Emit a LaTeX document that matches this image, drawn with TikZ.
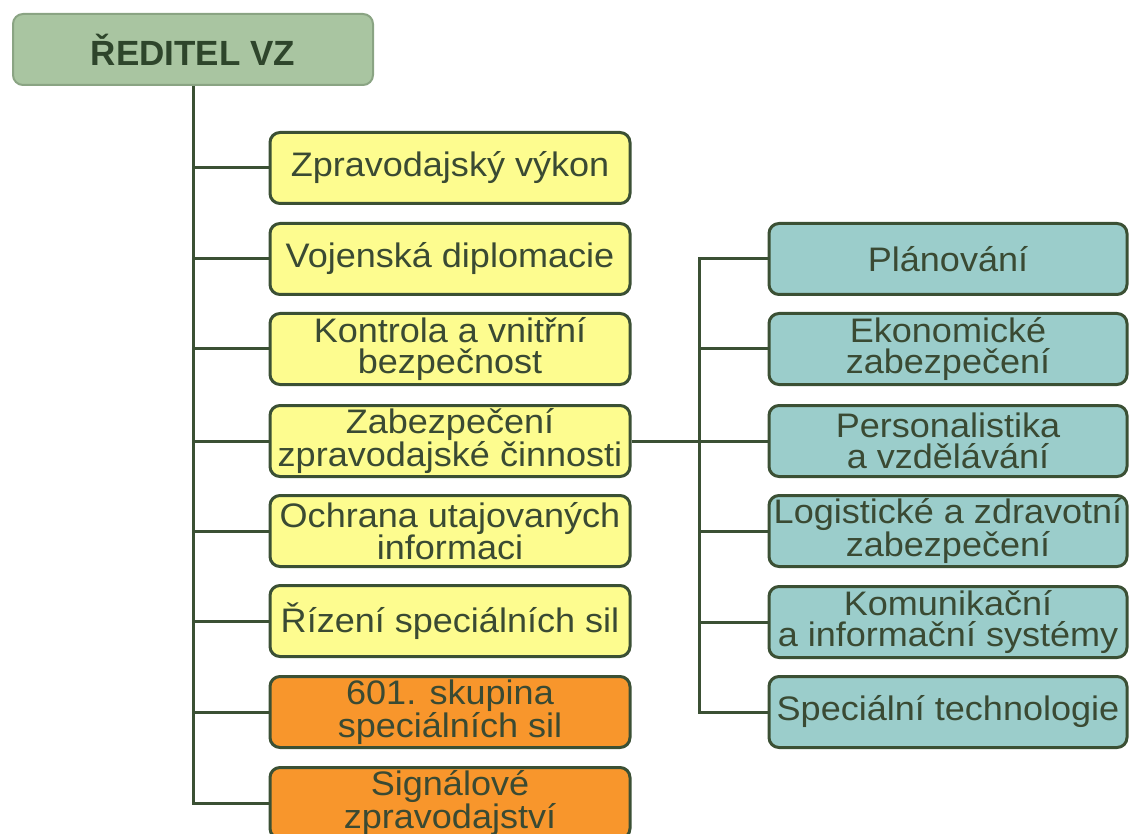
\documentclass[tikz,border=0pt]{standalone}
\usepackage{fontspec}
\setmainfont{Liberation Sans}
\newfontfamily\boxfont[FakeStretch=1.06]{Liberation Sans}
\definecolor{hdrfill}{HTML}{A9C5A1}
\definecolor{hdrline}{HTML}{8AA483}
\definecolor{hdrtext}{HTML}{2E452B}
\definecolor{yel}{HTML}{FDFC8F}
\definecolor{ora}{HTML}{F8962C}
\definecolor{blu}{HTML}{9BCDCB}
\definecolor{edge}{HTML}{3B5034}
\definecolor{txt}{HTML}{3A4A33}
\begin{document}
\begin{tikzpicture}[x=1pt,y=-1pt,
  box/.style={draw=edge, line width=3pt, rounded corners=10pt, minimum height=71pt,
    inner sep=0pt, align=center, text=txt,
    font=\boxfont\fontsize{34}{31}\selectfont},
  ybox/.style={box, fill=yel, minimum width=360pt},
  obox/.style={box, fill=ora, minimum width=360pt},
  bbox/.style={box, fill=blu, minimum width=358pt},
  link/.style={draw=edge, line width=3pt}]
\useasboundingbox (0,0) rectangle (1130,834);
\node[draw=hdrline, line width=2pt, fill=hdrfill, rounded corners=10pt,
  minimum width=360pt, minimum height=71pt, inner sep=0pt, text=hdrtext,
  font=\fontsize{35}{35}\selectfont\bfseries] (hdr) at (193,49.5) {ŘEDITEL VZ};
\node[ybox] (y1) at (450,168) {Zpravodajský výkon};
\node[ybox] (y2) at (450,259) {Vojenská diplomacie};
\node[ybox] (y3) at (450,349) {Kontrola a vnitřní\\bezpečnost};
\node[ybox] (y4) at (450,441) {Zabezpečení\\zpravodajské činnosti};
\node[ybox] (y5) at (450,531) {Ochrana utajovaných\\informaci};
\node[ybox] (y6) at (450,621) {Řízení speciálních sil};
\node[obox] (y7) at (450,712) {601. skupina\\speciálních sil};
\node[obox] (y8) at (450,803) {Signálové\\zpravodajství};
\node[bbox] (b1) at (948,259) {Plánování};
\node[bbox] (b2) at (948,349) {Ekonomické\\zabezpečení};
\node[bbox] (b3) at (948,441) {Personalistika\\a vzdělávání};
\node[bbox] (b4) at (948,531) {Logistické a zdravotní\\zabezpečení};
\node[bbox] (b5) at (948,622) {Komunikační\\a informační systémy};
\node[bbox] (b6) at (948,712) {Speciální technologie};
\coordinate (bt) at (699,0);
\draw[link] (hdr.south) |- (y8.west);
\foreach \n in {y1,y2,y3,y4,y5,y6,y7}{
  \draw[link] (\n.west) -- (\n.west -| hdr.south);
}
\draw[link] (y4.east) -- (b3.west);
\draw[link] (b1.west) -- (b1.west -| bt) -- (b6.west -| bt) -- (b6.west);
\foreach \n in {b2,b3,b4,b5}{
  \draw[link] (\n.west) -- (\n.west -| bt);
}
\end{tikzpicture}
\end{document}
